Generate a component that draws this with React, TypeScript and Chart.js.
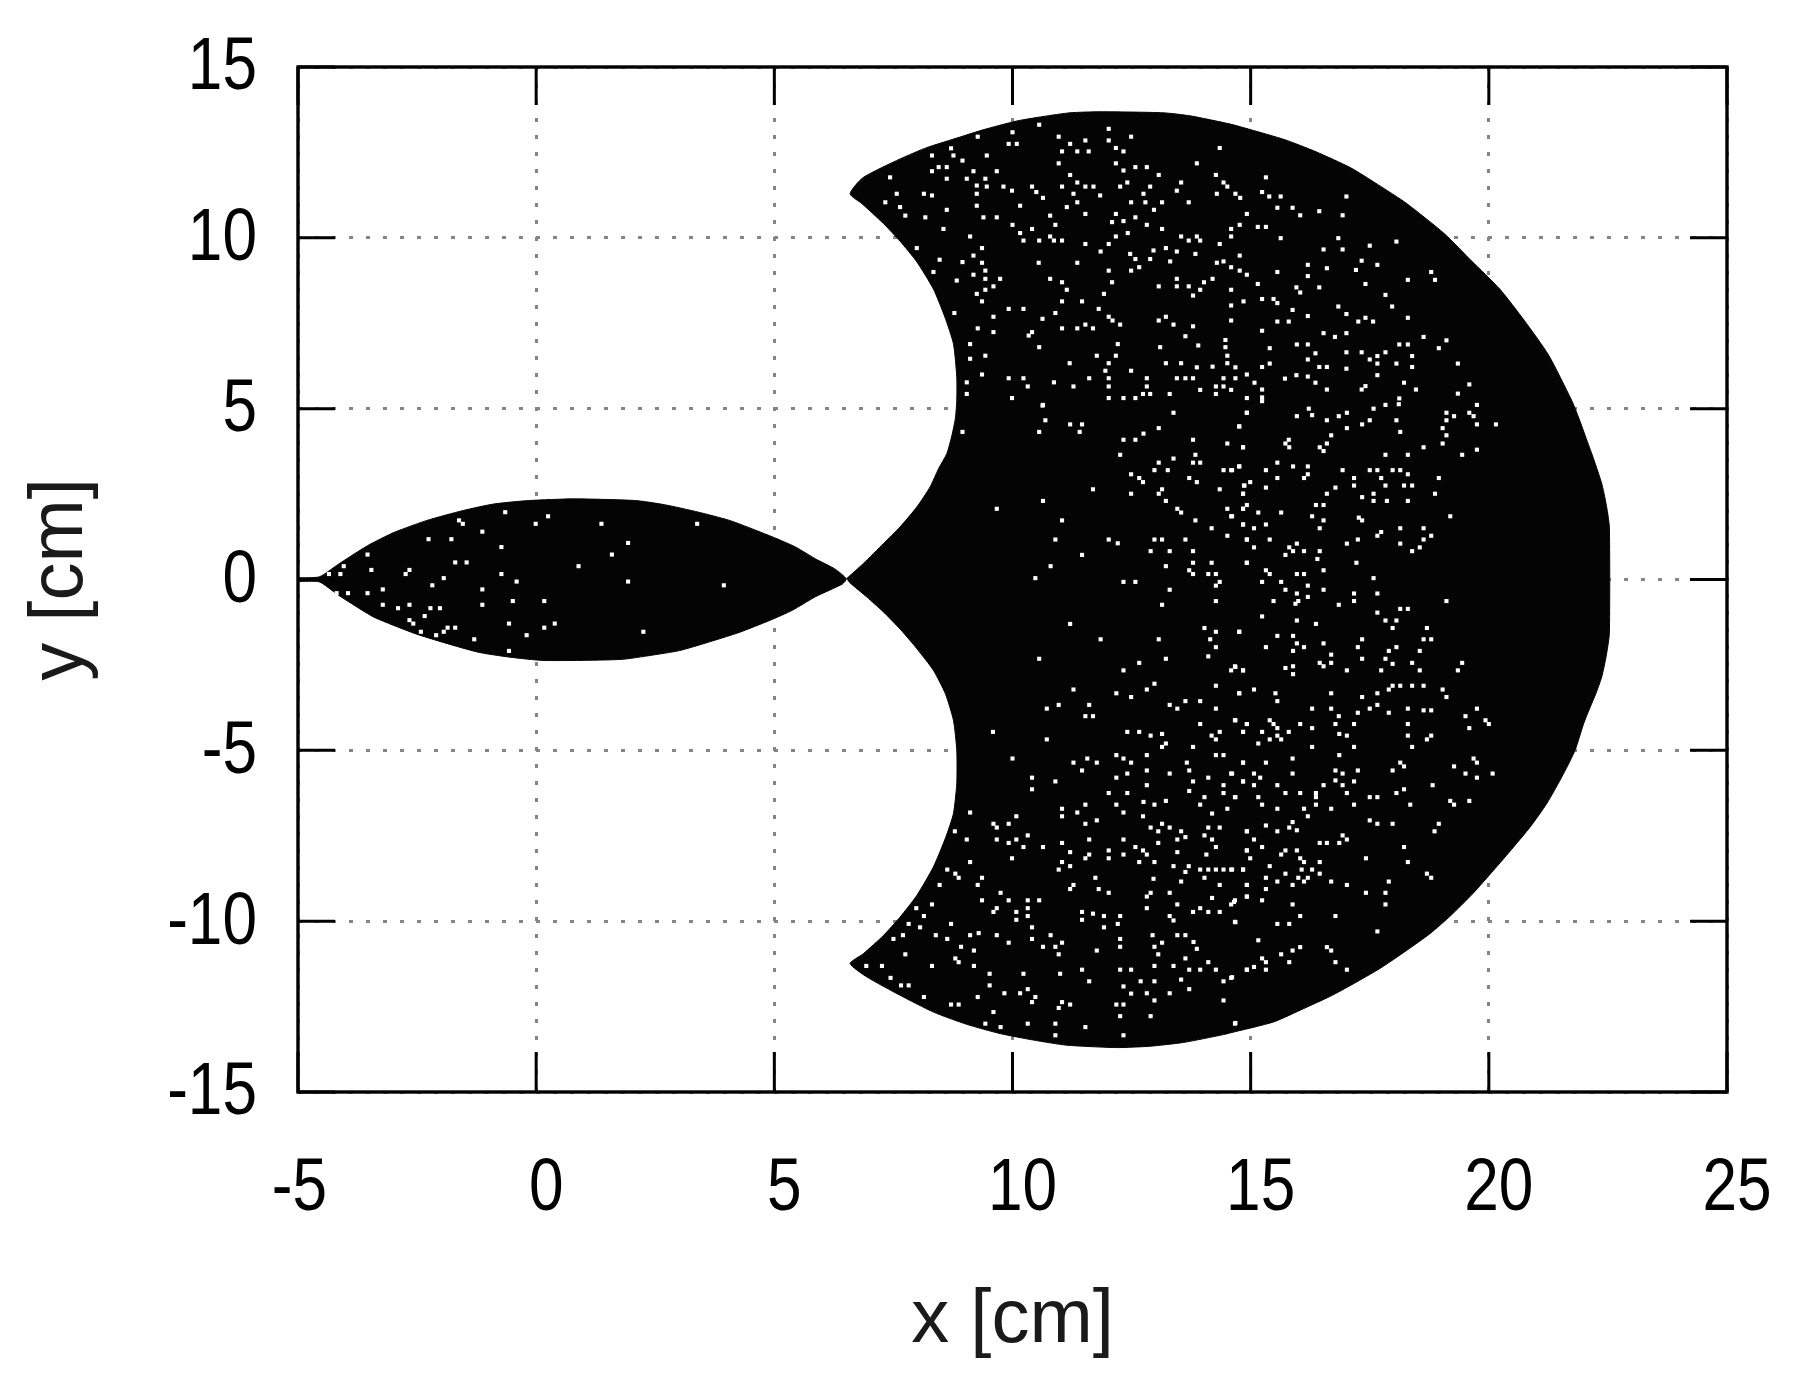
import React, { useEffect, useRef } from "react";
import { Chart, registerables } from "chart.js";

Chart.register(...registerables);

const xTitle = "x [cm]";
const yTitle = "y [cm]";
const xRange = [-5, 25];
const yRange = [-15, 15];
const tickStep = 5;

const lensOutline: number[][] = [
  [-5, 0.05], [-4.55, 0.08], [-4.15, 0.45], [-3.54, 0.99], [-2.98, 1.38], [-2.29, 1.73], [-1.53, 2.02], [-0.89, 2.21], [-0.16, 2.31], [0.8, 2.36], [2.09, 2.31], [2.69, 2.19], [3.41, 1.97], [4.06, 1.73], [4.54, 1.48], [5.06, 1.19], [5.46, 0.94], [5.87, 0.6], [6.27, 0.31], [6.51, 0.02],
  [6.43, -0.13], [5.87, -0.5], [5.38, -0.9], [4.9, -1.2], [4.26, -1.55], [3.58, -1.85], [3.01, -2.08], [2.41, -2.22], [1.77, -2.34], [0.16, -2.37], [-0.57, -2.27], [-1.21, -2.13], [-1.93, -1.85], [-2.57, -1.57], [-3.38, -1.12], [-3.7, -0.86], [-4.18, -0.43], [-4.55, -0.07], [-5, -0.05], [-5, 0.05],
];

const crescentOutline: number[][] = [
  [6.52, 0.03], [6.87, 0.47], [7.29, 1.05], [7.64, 1.54], [7.99, 2.12], [8.27, 2.71], [8.45, 3.25], [8.62, 3.68], [8.72, 4.17], [8.8, 4.71], [8.83, 5.24], [8.83, 5.93], [8.76, 6.9], [8.58, 7.68], [8.34, 8.5], [7.99, 9.3], [7.64, 9.9], [7.29, 10.42], [6.84, 11.0], [6.59, 11.29],
  [6.86, 11.76], [7.64, 12.31], [8.2, 12.64], [8.9, 12.95], [9.38, 13.16], [10.09, 13.42], [10.64, 13.55], [11.21, 13.66], [11.84, 13.69], [13.16, 13.66], [13.73, 13.57], [14.57, 13.33], [14.99, 13.17], [15.72, 12.87], [16.37, 12.52], [17.1, 12.05], [17.68, 11.55], [18.26, 11.02], [19.06, 10.13], [19.64, 9.32], [20.23, 8.5], [20.74, 7.59], [21.25, 6.58], [21.74, 5.24], [21.88, 4.76], [22.06, 4.07], [22.21, 3.49], [22.37, 2.81], [22.46, 2.23], [22.53, 1.54],
  [22.53, -1.58], [22.46, -2.27], [22.37, -2.85], [22.25, -3.33], [22.13, -3.73], [21.99, -4.22], [21.81, -5.0], [21.57, -5.68], [21.22, -6.55], [20.87, -7.24], [20.52, -7.83], [20.1, -8.51], [19.66, -9.2], [19.19, -9.85], [18.77, -10.36], [18.28, -10.85], [17.72, -11.38], [17.16, -11.83], [16.67, -12.2], [16.11, -12.56], [15.48, -12.95], [14.57, -13.27],
  [14.43, -13.32], [13.59, -13.55], [12.89, -13.66], [12.19, -13.7], [11.14, -13.63], [10.44, -13.48], [9.74, -13.29], [9.04, -13.02], [8.34, -12.66], [7.64, -12.17], [6.94, -11.63], [6.59, -11.24],
  [6.87, -10.95], [7.29, -10.42], [7.64, -9.88], [7.99, -9.25], [8.34, -8.41], [8.6, -7.54], [8.76, -6.85], [8.83, -5.97], [8.83, -5.0], [8.76, -4.12], [8.59, -3.34], [8.34, -2.66], [7.99, -2.02], [7.64, -1.45], [7.29, -0.95], [6.94, -0.51], [6.59, -0.1], [6.52, 0.03],
];

const specksLens: number[][] = [
  [-0.65,1.97],[0.25,1.85],[-1.62,1.73],[-1.54,1.63],[-0.01,1.63],[1.37,1.63],[3.38,1.63],[-1.13,1.4],[-2.26,1.18],[-1.78,1.18],[1.93,1.07],[-0.73,0.95],[-3.54,0.73],[1.59,0.73],[-1.7,0.5],[-1.46,0.5],[-4.04,0.39],[0.89,0.39],[-3.46,0.28],[-2.66,0.28],[-4.35,0.16],[-4.11,0.16],[-2.74,0.16],[-0.73,0.16],[-1.94,0.04],[-0.41,-0.06],[1.93,-0.06],[-2.18,-0.17],[3.94,-0.17],[-3.22,-0.29],[-1.13,-0.29],[-4.19,-0.4],[-3.95,-0.4],[-3.54,-0.4],[-0.49,-0.63],[0.17,-0.63],[-3.22,-0.74],[-2.66,-0.74],[-1.13,-0.74],[-2.9,-0.84],[-2.22,-0.84],[-2.02,-0.84],[-2.34,-1.07],[-2.66,-1.19],[-2.58,-1.29],[-0.57,-1.29],[0.39,-1.29],[-1.7,-1.41],[-1.86,-1.41],[0.17,-1.41],[-1.94,-1.53],[-2.42,-1.53],[2.25,-1.53],[-2.1,-1.63],[-0.2,-1.63],[-1.3,-1.75],[-0.57,-2.09],
];

const specksUpperLeft: number[][] = [
  [9.27,12.96],[8.71,12.62],[8.31,12.41],[8.76,12.41],[9.46,12.41],[8.95,12.26],[8.45,12.07],[8.62,12.07],[8.31,11.95],[9.18,11.95],[9.67,11.95],[7.43,11.77],[8.62,11.73],[9.04,11.73],[9.43,11.73],[9.25,11.53],[9.46,11.5],[9.81,11.5],[7.57,11.29],[8.14,11.29],[8.31,11.24],[9.25,11.29],[9.99,11.38],[7.64,10.9],[7.33,11.04],[8.62,10.82],[9.25,10.94],[8.17,10.6],[7.75,10.65],[9.39,10.6],[9.67,10.6],[8.55,10.26],[9.11,10.04],[7.99,9.7],[9.36,9.7],[9.18,9.48],[8.95,9.29],[8.47,9.36],[9.36,9.27],[8.34,9.0],[9.18,8.92],[9.43,9.04],[8.83,8.75],[9.43,8.8],[9.74,8.8],[9.6,8.58],[9.25,8.36],[9.43,8.48],[9.36,8.14],[9.6,7.69],[9.92,7.92],[10.23,7.92],[8.78,7.8],[9.27,7.35],[9.6,7.24],[9.11,6.89],[9.43,6.55],[9.11,6.46],[9.36,6.0],[9.92,5.89],[10.23,5.89],[9.04,5.77],[10.32,5.65],[9.04,5.43],[9.99,5.31],[10.63,5.09],
  [10.0,13.09],[10.56,13.31],[10.97,12.96],[11.53,12.85],[12.02,13.19],[12.02,12.85],[12.49,12.96],[9.92,12.75],[10.09,12.75],[11.21,12.75],[11.04,12.53],[11.36,12.53],[11.6,12.53],[12.17,12.63],[12.33,12.53],[14.35,12.63],[10.97,12.18],[12.17,12.18],[12.58,12.07],[12.82,12.07],[12.33,11.97],[13.87,12.18],[11.21,11.84],[13.07,11.84],[14.27,11.84],[11.36,11.62],[11.53,11.5],[11.7,11.5],[11.04,11.5],[10.41,11.5],[10.5,11.34],[12.26,11.5],[12.41,11.62],[12.89,11.5],[13.54,11.62],[13.45,11.38],[14.43,11.62],[14.51,11.5],[11.28,11.29],[11.84,11.24],[12.75,11.29],[14.29,11.29],[10.64,11.17],[14.68,11.29],[14.78,11.17],[10.16,10.94],[11.36,11.04],[11.14,10.9],[12.49,11.04],[12.79,11.04],[13.14,11.04],[13.7,11.04],[11.53,10.7],[10.79,10.65],[12.17,10.7],[12.97,10.82],[12.58,10.6],[14.92,10.7],[12.09,10.46],[12.33,10.49],[12.82,10.38],[14.77,10.38],[10.0,10.38],[10.41,10.26],[10.9,10.38],[10.16,10.14],[10.79,10.04],[12.17,10.04],[13.14,10.26],[14.59,10.26],[12.42,10.14],[13.54,10.04],[13.87,10.04],[14.59,10.04],[10.23,9.92],[10.56,9.92],[10.87,9.92],[11.04,9.92],[11.53,9.82],[13.7,9.92],[13.94,9.92],[12.02,9.82],[14.35,9.82],[11.85,9.6],[13.22,9.7],[13.45,9.6],[12.47,9.53],[12.96,9.63],[13.84,9.53],[12.89,9.38],[13.31,9.31],[10.55,9.27],[11.36,9.27],[12.58,9.38],[14.29,9.27],[14.43,9.31],[14.77,9.48],[12.66,9.14],[12.02,9.04],[12.49,9.04],[14.59,9.14],[14.77,9.04],[14.92,8.92],[10.79,8.8],[13.45,8.8],[14.2,8.8],[11.04,8.7],[12.09,8.7],[14.02,8.7],[11.14,8.48],[13.07,8.58],[13.45,8.58],[13.7,8.58],[13.94,8.48],[11.92,8.36],[14.59,8.48],[13.79,8.31],[11.04,8.14],[11.46,8.14],[14.85,8.14],[14.59,8.02],[11.81,7.92],[10.63,7.63],[10.9,7.8],[12.02,7.69],[13.22,7.69],[14.59,7.58],[12.1,7.58],[11.36,7.35],[11.53,7.46],[11.69,7.35],[12.26,7.46],[11.04,7.35],[13.07,7.58],[13.79,7.41],[13.38,7.46],[10.41,7.24],[10.34,7.14],[13.63,7.12],[14.47,7.01],[10.56,6.8],[12.21,6.89],[13.1,6.8],[13.9,6.85],[14.47,6.8],[11.77,6.55],[12.17,6.55],[14.51,6.55],[11.2,6.33],[12.02,6.33],[13.22,6.33],[13.54,6.33],[13.87,6.21],[14.2,6.23],[14.51,6.33],[11.95,6.11],[12.49,6.11],[14.68,6.21],[11.61,5.89],[12.02,5.89],[12.82,5.89],[13.45,5.89],[13.63,5.89],[13.79,5.89],[14.43,5.89],[14.68,5.89],[14.92,6.0],[10.87,5.77],[11.28,5.65],[12.02,5.65],[12.82,5.65],[14.27,5.65],[14.43,5.65],[13.94,5.55],[14.59,5.55],[12.74,5.43],[13.3,5.43],[12.33,5.31],[12.58,5.31],[12.02,5.31],[12.89,5.43],[14.92,5.31],[14.27,5.43],
];

const specksUpperRight: number[][] = [
  [15.32,11.77],[15.24,11.34],[15.39,11.21],[15.63,11.21],[17.01,11.21],[15.56,10.88],[15.88,10.88],[16.44,10.78],[16.04,10.66],[16.93,10.66],[15.15,10.32],[15.32,10.32],[15.63,9.99],[16.84,9.99],[18.06,9.89],[17.5,9.77],[16.53,9.66],[16.93,9.66],[17.33,9.33],[16.2,9.21],[17.66,9.21],[16.6,9.11],[17.21,9.06],[18.79,9.0],[15.56,9.0],[16.2,8.88],[18.3,8.77],[18.87,8.77],[15.15,8.65],[17.41,8.65],[15.96,8.55],[16.44,8.55],[16.04,8.4],[17.83,8.33],[15.24,8.21],[15.48,8.21],[15.56,8.09],[16.84,7.99],[17.97,7.99],[15.88,7.89],[17.01,7.77],[16.2,7.71],[17.41,7.66],[18.3,7.66],[15.56,7.55],[15.8,7.55],[17.26,7.55],[17.57,7.55],[15.24,7.28],[16.53,7.21],[17.01,7.21],[16.77,7.1],[18.63,7.1],[19.11,7.0],[15.97,6.88],[16.2,6.88],[18.12,6.88],[18.3,6.88],[18.95,6.77],[15.4,6.77],[16.36,6.62],[17.01,6.65],[17.33,6.65],[17.83,6.65],[17.66,6.54],[18.39,6.54],[16.2,6.44],[17.5,6.44],[15.4,6.32],[17.66,6.32],[18.06,6.32],[19.35,6.32],[15.24,6.22],[16.44,6.22],[16.6,6.22],[18.39,6.22],[17.01,6.17],[15.96,5.98],[16.2,5.94],[17.66,5.98],[15.72,5.88],[16.36,5.76],[15.08,5.76],[18.22,5.76],[19.59,5.71],[17.41,5.66],[15.24,5.56],[16.6,5.56],[17.33,5.56],[18.47,5.56],[19.35,5.44],[15.24,5.33],[18.12,5.3],
];

const specksMiddleLeft: number[][] = [
  [10.64,5.11],[10.69,4.66],[11.21,4.54],[11.46,4.54],[10.56,4.32],[11.41,4.32],[8.95,4.32],[13.38,4.88],[14.92,4.88],[13.07,4.43],[14.76,4.48],[12.75,4.27],[12.33,4.09],[12.58,4.09],[13.79,4.09],[14.51,3.98],[14.84,3.87],[12.26,3.65],[13.84,3.65],[13.38,3.54],[13.07,3.42],[13.79,3.42],[13.94,3.42],[14.76,3.31],[12.98,3.2],[13.26,3.2],[14.43,3.2],[14.59,3.2],[12.49,3.08],[12.66,2.97],[13.71,2.97],[12.74,2.85],[13.87,2.85],[14.87,2.75],[11.69,2.64],[13.14,2.64],[14.35,2.64],[12.49,2.51],[13.07,2.51],[14.84,2.51],[13.22,2.3],[10.64,2.3],[9.67,2.07],[13.46,2.07],[14.51,2.07],[14.84,2.07],[13.54,1.96],[14.59,1.85],[11.04,1.73],[13.84,1.73],[14.84,1.61],[14.18,1.5],[14.51,1.28],[10.9,1.17],[12.02,1.17],[12.98,1.17],[13.14,1.17],[13.63,1.17],[14.92,1.17],[12.21,1.06],[12.9,0.83],[13.3,0.83],[13.79,0.83],[11.46,0.72],[13.79,0.49],[14.18,0.49],[10.8,0.39],[13.22,0.39],[14.92,0.49],[13.71,0.27],[13.79,0.16],[14.11,0.16],[14.27,0.16],[10.48,0.04],[12.33,-0.07],[12.58,-0.07],[14.35,-0.07],[14.27,-0.18],[13.3,-0.3],[14.27,-0.63],[13.14,-0.74],[11.21,-1.3],[14.03,-1.42],[14.27,-1.53],[14.76,-1.53],[11.85,-1.75],[13.07,-1.75],[14.15,-1.75],[14.27,-1.98],[10.56,-2.32],[13.22,-2.32],[14.11,-2.25],[12.66,-2.44],[14.67,-2.54],[12.33,-2.66],[14.59,-2.66],[14.84,-2.66],[12.98,-3.05],[14.27,-3.11],[11.28,-3.22],[12.82,-3.22],[12.18,-3.33],[14.76,-3.33],[12.49,-3.44],[13.63,-3.56],[13.94,-3.56],[10.97,-3.67],[11.61,-3.67],[13.3,-3.67],[10.72,-3.78],[13.46,-3.78],[14.27,-3.78],[11.53,-4.0],[11.69,-4.0],[14.67,-4.12],[13.94,-4.23],[14.92,-4.23],[9.59,-4.46],[12.41,-4.46],[12.66,-4.46],[13.14,-4.52],[14.35,-4.46],[14.84,-4.46],[12.9,-4.57],[14.18,-4.57],[10.72,-4.68],[14.27,-4.68],[13.22,-4.8],[13.14,-4.9],[13.79,-4.9],
];

const specksMiddleRight: number[][] = [
  [15.24,5.22],[16.22,5.0],[16.29,4.81],[14.92,4.88],[15.97,4.78],[17.02,4.88],[16.85,4.78],[17.58,5.0],[17.83,5.11],[18.11,5.13],[19.75,5.11],[19.11,4.88],[19.27,4.78],[19.59,4.88],[19.68,4.78],[19.11,4.66],[16.6,4.66],[17.5,4.66],[18.06,4.66],[19.75,4.54],[20.15,4.54],[14.76,4.48],[17.34,4.54],[17.02,4.43],[19.03,4.43],[18.14,4.32],[16.69,4.22],[19.11,4.22],[15.8,4.09],[15.73,3.98],[16.6,3.98],[19.03,3.98],[14.84,3.87],[15.81,3.87],[16.45,3.87],[18.63,3.87],[19.75,3.8],[16.53,3.76],[17.83,3.65],[18.3,3.65],[19.44,3.65],[15.56,3.42],[14.76,3.31],[15.89,3.31],[16.2,3.31],[14.61,3.2],[15.32,3.2],[16.93,3.2],[17.5,3.2],[17.66,3.2],[17.98,3.2],[18.14,3.2],[18.3,3.08],[16.2,3.08],[15.56,2.97],[16.12,2.97],[17.17,2.97],[17.74,2.97],[18.95,2.97],[14.99,2.85],[14.86,2.75],[15.32,2.69],[16.78,2.69],[17.17,2.75],[17.83,2.75],[18.22,2.75],[18.39,2.75],[14.84,2.51],[16.6,2.51],[17.58,2.51],[18.87,2.51],[17.34,2.41],[17.58,2.3],[17.86,2.3],[18.3,2.3],[14.92,2.18],[16.37,2.18],[16.53,2.18],[14.84,2.07],[15.16,1.96],[15.64,1.96],[16.29,1.85],[14.61,1.85],[19.19,1.85],[17.27,1.81],[17.34,1.73],[16.53,1.73],[14.84,1.61],[15.32,1.61],[15.07,1.5],[16.45,1.5],[18.14,1.5],[18.63,1.5],[17.74,1.39],[17.66,1.28],[18.79,1.28],[14.92,1.17],[15.4,1.17],[17.25,1.17],[18.63,1.17],[15.97,1.05],[17.02,1.05],[18.14,1.05],[15.07,0.94],[15.81,0.94],[18.55,0.94],[15.89,0.83],[16.12,0.83],[16.45,0.83],[18.39,0.83],[15.73,0.72],[16.4,0.6],[14.92,0.49],[17.22,0.49],[15.32,0.27],[16.53,0.27],[15.4,0.16],[15.97,0.16],[16.12,0.16],[17.58,0.04],[15.24,-0.07],[15.64,-0.07],[16.2,-0.18],[15.73,-0.3],[16.53,-0.3],[15.97,-0.41],[17.17,-0.41],[17.66,-0.41],[16.2,-0.51],[15.48,-0.63],[16.0,-0.63],[17.17,-0.63],[19.11,-0.63],[15.94,-0.71],[16.85,-0.74],[18.14,-0.86],[18.3,-0.86],[17.66,-0.97],[15.24,-1.08],[15.97,-1.2],[17.83,-1.2],[18.06,-1.2],[16.37,-1.3],[17.98,-1.42],[18.7,-1.42],[14.76,-1.53],[15.56,-1.65],[15.89,-1.65],[17.34,-1.75],[18.63,-1.75],[18.79,-1.75],[15.97,-1.87],[16.53,-1.87],[15.32,-1.98],[16.12,-1.98],[17.25,-1.98],[18.06,-1.98],[15.89,-2.09],[17.9,-2.09],[18.55,-2.09],[16.69,-2.2],[17.34,-2.32],[17.83,-2.32],[16.45,-2.44],[16.69,-2.44],[17.98,-2.47],[18.39,-2.44],[19.44,-2.44],[15.89,-2.54],[15.73,-2.59],[16.53,-2.54],[14.68,-2.56],[14.84,-2.66],[17.02,-2.66],[17.74,-2.66],[18.55,-2.66],[19.35,-2.66],[15.89,-2.77],[17.98,-3.11],[18.14,-3.11],[18.39,-3.11],[18.63,-3.11],[15.07,-3.22],[17.9,-3.22],[19.03,-3.22],[14.76,-3.33],[15.52,-3.33],[16.69,-3.33],[17.66,-3.33],[17.34,-3.44],[19.11,-3.44],[15.56,-3.56],[17.66,-3.67],[17.5,-3.78],[16.29,-3.78],[16.69,-3.78],[18.3,-3.78],[18.63,-3.83],[18.79,-3.83],[19.75,-3.78],[17.25,-3.9],[17.9,-3.9],[16.85,-4.0],[19.51,-4.0],[14.68,-4.12],[15.4,-4.12],[19.93,-4.12],[14.92,-4.23],[16.04,-4.23],[16.78,-4.23],[17.17,-4.23],[18.3,-4.23],[20.0,-4.23],[15.48,-4.23],[15.56,-4.35],[16.29,-4.35],[19.59,-4.35],[14.84,-4.46],[15.24,-4.46],[15.8,-4.46],[16.86,-4.52],[15.56,-4.57],[17.02,-4.57],[18.3,-4.57],[18.79,-4.57],[15.4,-4.68],[15.64,-4.68],[18.7,-4.68],[15.16,-4.8],[16.29,-4.9],[17.17,-4.9],[18.39,-4.9],
];

const specksLowerLeft: number[][] = [
  [10.0,-5.24],[11.57,-5.24],[11.28,-5.36],[11.77,-5.36],[12.18,-5.14],[12.33,-5.24],[12.49,-5.36],[12.82,-5.14],[13.66,-5.36],[14.27,-5.14],[14.43,-5.14],[14.84,-5.36],[11.46,-5.59],[12.82,-5.59],[13.71,-5.59],[12.41,-5.68],[13.3,-5.68],[14.59,-5.68],[10.41,-5.8],[12.18,-5.8],[14.11,-5.8],[10.9,-5.91],[13.79,-5.91],[14.84,-5.91],[12.82,-6.02],[14.43,-6.02],[10.41,-6.14],[13.71,-6.19],[12.02,-6.25],[12.41,-6.25],[14.43,-6.25],[14.67,-6.37],[14.03,-6.37],[12.75,-6.51],[13.22,-6.48],[11.53,-6.59],[12.18,-6.59],[12.98,-6.59],[13.94,-6.59],[11.04,-6.71],[14.51,-6.71],[9.11,-6.82],[11.36,-6.82],[12.33,-6.82],[14.19,-6.85],[10.08,-6.93],[11.04,-6.93],[12.74,-6.93],[11.77,-7.05],[9.6,-7.15],[9.92,-7.15],[11.53,-7.15],[13.14,-7.15],[9.67,-7.26],[12.9,-7.26],[13.3,-7.26],[14.11,-7.26],[14.35,-7.26],[8.79,-7.37],[13.06,-7.37],[13.54,-7.37],[14.92,-7.37],[10.32,-7.49],[14.03,-7.49],[13.63,-7.54],[9.04,-7.61],[9.67,-7.61],[10.08,-7.61],[11.61,-7.61],[12.33,-7.61],[13.46,-7.61],[14.19,-7.61],[9.92,-7.71],[11.04,-7.71],[13.06,-7.71],[10.23,-7.83],[10.64,-7.83],[12.58,-7.83],[14.27,-7.83],[11.21,-7.98],[12.02,-7.93],[12.74,-7.93],[13.46,-7.98],[14.92,-7.93],[12.33,-8.05],[12.82,-8.05],[14.07,-8.05],[11.61,-8.05],[9.99,-8.16],[11.53,-8.16],[12.02,-8.16],[9.11,-8.27],[11.04,-8.27],[12.66,-8.27],[12.98,-8.27],[11.21,-8.39],[13.38,-8.39],[13.7,-8.39],[8.63,-8.49],[10.97,-8.49],[13.94,-8.49],[14.11,-8.49],[14.27,-8.49],[14.43,-8.49],[14.59,-8.49],[14.84,-8.49],[13.63,-8.56],[8.8,-8.61],[8.87,-8.73],[9.36,-8.73],[11.74,-8.73],[14.03,-8.73],[12.96,-8.76],[13.54,-8.84],[8.47,-8.94],[9.27,-8.94],[11.28,-8.94],[14.35,-8.94],[14.92,-8.94],[11.81,-9.06],[11.21,-9.06],[9.75,-9.17],[12.02,-9.17],[12.9,-9.17],[13.3,-9.17],[12.82,-9.28],[14.19,-9.32],[14.92,-9.28],[9.36,-9.39],[9.92,-9.39],[10.32,-9.39],[10.56,-9.39],[14.67,-9.39],[8.31,-9.51],[13.46,-9.51],[14.59,-9.51],[7.98,-9.62],[9.67,-9.62],[10.32,-9.62],[12.82,-9.62],[13.94,-9.62],[9.6,-9.73],[10.08,-9.73],[11.46,-9.73],[11.69,-9.78],[13.79,-9.73],[14.11,-9.73],[14.35,-9.73],[8.14,-9.85],[10.32,-9.85],[11.92,-9.85],[12.26,-9.85],[13.3,-9.85],[10.08,-9.96],[11.46,-9.96],[13.38,-9.98],[14.67,-10.02],[7.82,-10.08],[8.71,-10.08],[12.21,-10.08],[8.06,-10.18],[10.41,-10.18],[11.92,-10.18],[9.29,-10.35],[7.7,-10.41],[8.39,-10.41],[9.11,-10.41],[9.67,-10.41],[10.8,-10.41],[12.94,-10.41],[13.46,-10.41],[13.63,-10.41],[7.5,-10.52],[8.63,-10.52],[10.41,-10.52],[12.26,-10.52],[9.92,-10.63],[11.04,-10.63],[13.14,-10.63],[13.8,-10.61],[8.92,-10.75],[10.64,-10.75],[10.9,-10.75],[12.26,-10.75],[12.98,-10.75],[13.87,-10.81],[9.19,-10.86],[11.77,-10.86],[7.75,-10.97],[10.97,-10.97],[13.06,-10.97],[8.8,-11.09],[13.63,-11.09],[8.87,-11.2],[14.11,-11.2],[6.93,-11.31],[7.26,-11.31],[8.31,-11.31],[9.19,-11.31],[12.98,-11.31],[13.38,-11.31],[11.46,-11.42],[12.26,-11.42],[12.49,-11.42],[13.71,-11.42],[13.94,-11.42],[14.27,-11.42],[14.92,-11.42],[9.52,-11.54],[10.23,-11.54],[11.0,-11.54],[7.44,-11.66],[14.59,-11.66],[13.54,-11.71],[11.61,-11.76],[12.69,-11.76],[12.98,-11.76],[14.43,-11.76],[7.66,-11.88],[7.82,-11.88],[9.52,-11.88],[12.33,-11.91],[10.32,-11.99],[13.71,-11.99],[9.83,-12.11],[10.16,-12.11],[12.49,-12.12],[12.82,-12.11],[13.3,-12.11],[8.14,-12.22],[9.27,-12.22],[10.48,-12.22],[12.98,-12.32],[14.43,-12.32],[10.41,-12.37],[11.04,-12.37],[8.71,-12.44],[8.87,-12.44],[11.21,-12.44],[12.18,-12.44],[12.33,-12.44],[10.97,-12.54],[9.6,-12.66],[12.26,-12.78],[12.9,-12.78],[9.43,-13.0],[10.32,-13.0],[10.9,-13.0],[14.67,-13.0],[9.75,-13.1],[11.53,-13.1],[10.9,-13.34],[12.33,-13.34],
];

const specksLowerRight: number[][] = [
  [14.84,-5.36],[15.32,-5.36],[18.14,-5.36],[18.22,-5.47],[19.27,-5.47],[19.75,-5.36],[19.68,-5.24],[15.88,-5.24],[16.86,-5.14],[16.78,-5.59],[17.25,-5.59],[17.98,-5.59],[14.61,-5.68],[15.07,-5.68],[15.88,-5.68],[16.93,-5.68],[19.51,-5.68],[20.08,-5.68],[15.2,-5.8],[19.75,-5.8],[16.78,-5.88],[14.84,-5.91],[17.17,-5.91],[15.07,-6.02],[15.56,-6.02],[16.53,-6.02],[16.93,-6.02],[18.82,-6.02],[18.22,-6.14],[15.73,-6.25],[16.04,-6.25],[16.37,-6.25],[17.02,-6.25],[18.06,-6.25],[14.68,-6.37],[15.16,-6.37],[16.37,-6.37],[17.5,-6.37],[17.66,-6.37],[19.19,-6.48],[19.59,-6.48],[15.24,-6.59],[16.37,-6.59],[17.17,-6.59],[18.35,-6.59],[19.27,-6.59],[15.56,-6.71],[16.12,-6.71],[16.69,-6.71],[16.2,-6.93],[17.5,-7.05],[15.88,-7.1],[15.32,-7.2],[17.66,-7.15],[17.98,-7.15],[18.95,-7.15],[15.81,-7.26],[15.97,-7.34],[14.92,-7.37],[15.56,-7.37],[18.86,-7.37],[16.93,-7.49],[15.07,-7.61],[17.02,-7.61],[16.45,-7.71],[16.6,-7.71],[16.86,-7.71],[15.24,-7.83],[18.22,-7.83],[14.92,-7.93],[15.73,-7.93],[15.97,-7.93],[15.64,-8.05],[14.99,-8.16],[16.04,-8.16],[17.42,-8.16],[16.12,-8.27],[16.45,-8.27],[18.3,-8.27],[15.4,-8.39],[14.61,-8.49],[14.84,-8.49],[16.07,-8.49],[16.29,-8.49],[15.73,-8.61],[16.45,-8.61],[18.7,-8.61],[15.32,-8.73],[16.0,-8.73],[16.2,-8.73],[18.79,-8.73],[15.56,-8.84],[16.12,-8.84],[16.69,-8.84],[17.9,-8.84],[14.92,-8.94],[15.88,-8.94],[17.02,-8.94],[15.32,-9.06],[17.42,-9.17],[17.83,-9.17],[14.92,-9.28],[15.24,-9.39],[14.65,-9.44],[15.88,-9.51],[17.83,-9.51],[16.78,-9.85],[16.04,-9.85],[14.68,-10.03],[15.56,-10.08],[15.81,-10.08],[17.66,-10.3],[15.16,-10.56],[16.6,-10.76],[16.04,-10.76],[15.88,-10.86],[16.69,-10.86],[15.64,-10.97],[15.24,-11.09],[15.32,-11.2],[15.81,-11.2],[16.78,-11.2],[15.07,-11.34],[14.92,-11.42],[15.32,-11.42],[17.02,-11.42],[14.61,-11.64],[14.68,-12.98],
];

const toPoints = (pairs: number[][]) => pairs.map(([x, y]) => ({ x, y }));
const allSpecks = [specksLens, specksUpperLeft, specksUpperRight, specksMiddleLeft, specksMiddleRight, specksLowerLeft, specksLowerRight].flat();

const TICK_FONT_SIZE = 74;
const TICK_SQUEEZE = 0.84;

const condensedTicks = {
  id: "condensedTicks",
  beforeDraw(chart: any) {
    const ctx = chart.ctx;
    if (ctx.__squeezed) return;
    ctx.__squeezed = true;
    const fill = ctx.fillText;
    ctx.fillText = function (text: string, x: number, y: number, ...rest: any[]) {
      if (!String(ctx.font).includes(`${TICK_FONT_SIZE}px`)) return fill.call(ctx, text, x, y, ...rest);
      ctx.save();
      ctx.translate(x, y);
      ctx.scale(TICK_SQUEEZE, 1);
      fill.call(ctx, text, 0, 0, ...rest);
      ctx.restore();
    };
  },
};

const frame = {
  id: "frameAndInwardTicks",
  afterDatasetsDraw(chart: any) {
    const { ctx, chartArea: a, scales } = chart;
    ctx.save();
    ctx.strokeStyle = "#000";
    ctx.setLineDash([]);
    ctx.lineWidth = 3;
    ctx.beginPath();
    scales.x.ticks.forEach((t: any) => {
      const p = scales.x.getPixelForValue(t.value);
      ctx.moveTo(p, a.top); ctx.lineTo(p, a.top + 38);
      ctx.moveTo(p, a.bottom); ctx.lineTo(p, a.bottom - 40);
    });
    scales.y.ticks.forEach((t: any) => {
      const p = scales.y.getPixelForValue(t.value);
      ctx.moveTo(a.left, p); ctx.lineTo(a.left + 37, p);
      ctx.moveTo(a.right, p); ctx.lineTo(a.right - 37, p);
    });
    ctx.stroke();
    ctx.lineWidth = 3.4;
    ctx.strokeRect(a.left, a.top, a.right - a.left, a.bottom - a.top);
    ctx.restore();
  },
};

const tickFont = { family: "'Liberation Sans'", size: TICK_FONT_SIZE };
const titleFont = { family: "'Liberation Sans'", size: 76 };
const grid = { color: "#858585", lineWidth: 3, drawTicks: false };
const border = { display: false, dash: [4, 13] };
const noScalePadding = (s: any) => { s.paddingLeft = 0; s.paddingRight = 0; s.paddingTop = 0; s.paddingBottom = 0; };

export default function App() {
  const ref = useRef<HTMLCanvasElement>(null);
  useEffect(() => {
    document.body.style.margin = "0";
    const chart = new Chart(ref.current!, {
      type: "scatter",
      data: {
        datasets: [
          { label: "gaps", data: toPoints(allSpecks), pointStyle: "rect", pointRadius: 2.9, pointBackgroundColor: "#fff", pointBorderWidth: 0, showLine: false, order: 0 },
          { label: "lens", data: toPoints(lensOutline), showLine: true, fill: "shape", backgroundColor: "#040404", borderColor: "#040404", borderWidth: 1, pointRadius: 0, tension: 0.2, order: 1 },
          { label: "crescent", data: toPoints(crescentOutline), showLine: true, fill: "shape", backgroundColor: "#040404", borderColor: "#040404", borderWidth: 1, pointRadius: 0, tension: 0.2, order: 1 },
        ],
      } as any,
      options: {
        animation: false,
        responsive: false,
        devicePixelRatio: 1,
        layout: { padding: { top: 67, right: 66, left: 0, bottom: 0 } },
        plugins: { legend: { display: false }, tooltip: { enabled: false } },
        scales: {
          x: {
            type: "linear", min: xRange[0], max: xRange[1], grid, border,
            afterFit: (s: any) => { s.height = 290; noScalePadding(s); },
            ticks: {
              stepSize: tickStep, color: "#000", font: tickFont, padding: 53, labelOffset: 10, maxRotation: 0, autoSkip: false,
              callback: (v: any) => (v === -5 ? "-5 " : String(v)),
            },
            title: { display: true, text: xTitle, color: "#1a1a1a", font: titleFont, padding: { top: 0, bottom: 15 } },
          },
          y: {
            type: "linear", min: yRange[0], max: yRange[1], grid, border,
            afterFit: (s: any) => { s.width = 298; noScalePadding(s); },
            ticks: { stepSize: tickStep, color: "#000", font: tickFont, padding: 41, labelOffset: 2, autoSkip: false },
            title: { display: true, text: yTitle, color: "#1a1a1a", font: titleFont, padding: { top: 15, bottom: 0 } },
          },
        },
      } as any,
      plugins: [condensedTicks, frame],
    });
    return () => chart.destroy();
  }, []);
  return <canvas ref={ref} width={1793} height={1382} style={{ display: "block", width: 1793, height: 1382 }} />;
}
